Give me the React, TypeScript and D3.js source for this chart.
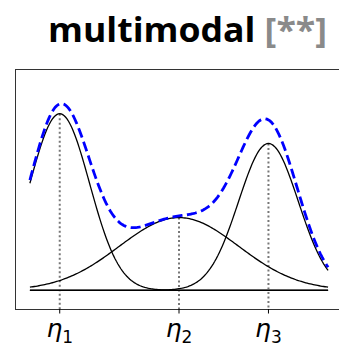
import React from 'react';
import * as d3 from 'd3';

// mixture components (x axis 0..10)
const labels = ['1', '2', '3'];
const means = [1, 5, 8];
const sigmas = [1, 2, 1];
const weights = [0.38, 0.313, 0.316];
const xDomain = [-0.5, 10.5];
const yDomain = [-0.016, 0.19];
const xStart = 0;
const xEnd = 10;

const gauss = (x: number, m: number, s: number, w: number) =>
  (w / (s * Math.sqrt(2 * Math.PI))) * Math.exp(-((x - m) ** 2) / (2 * s * s));

const App = () => {
  const ref = React.useRef<SVGSVGElement>(null);

  React.useEffect(() => {
    const svg = d3.select(ref.current);
    svg.selectAll('*').remove();

    const x = d3.scaleLinear().domain(xDomain).range([15, 343]);
    const y = d3.scaleLinear().domain(yDomain).range([309, 69]);
    const xs = d3.range(xStart, xEnd + 0.001, 0.05);

    // title
    const title = svg.append('text')
      .attr('x', 48)
      .attr('y', 42)
      .attr('textLength', 279)
      .attr('lengthAdjust', 'spacingAndGlyphs')
      .style('font-family', '"Open Sans", Lato, sans-serif')
      .style('font-weight', 'bold')
      .style('font-size', '34px');
    title.append('tspan').attr('fill', '#000').text('multimodal ');
    title.append('tspan').attr('fill', '#8a8a8a').text('[**]');

    // frame (right side falls off the picture)
    svg.append('rect')
      .attr('x', 15.5)
      .attr('y', 69.5)
      .attr('width', 340)
      .attr('height', 240)
      .attr('fill', 'none')
      .attr('stroke', '#333')
      .attr('stroke-width', 1);

    // zero line
    svg.append('line')
      .attr('x1', x(xStart)).attr('x2', x(xEnd))
      .attr('y1', y(0)).attr('y2', y(0))
      .attr('stroke', '#000')
      .attr('stroke-width', 1.5);

    // dotted markers at the means
    means.forEach((m, i) => {
      svg.append('line')
        .attr('x1', x(m)).attr('x2', x(m))
        .attr('y1', y(gauss(m, m, sigmas[i], weights[i])))
        .attr('y2', y.range()[0])
        .attr('stroke', '#777')
        .attr('stroke-width', 2)
        .attr('stroke-dasharray', '2,2.5');
    });

    const line = d3.line<[number, number]>().x(d => x(d[0])).y(d => y(d[1]));

    // components
    means.forEach((m, i) => {
      svg.append('path')
        .datum(xs.map(v => [v, gauss(v, m, sigmas[i], weights[i])] as [number, number]))
        .attr('d', line)
        .attr('fill', 'none')
        .attr('stroke', '#000')
        .attr('stroke-width', 1.3);
    });

    // mixture
    svg.append('path')
      .datum(xs.map(v => [v, d3.sum(means, (m, i) => gauss(v, m, sigmas[i], weights[i]))] as [number, number]))
      .attr('d', line)
      .attr('fill', 'none')
      .attr('stroke', '#0000ff')
      .attr('stroke-width', 2.8)
      .attr('stroke-dasharray', '10,4.5');

    // ticks + labels
    means.forEach((m, i) => {
      svg.append('line')
        .attr('x1', x(m)).attr('x2', x(m))
        .attr('y1', 309).attr('y2', 313.5)
        .attr('stroke', '#000')
        .attr('stroke-width', 1);
      const t = svg.append('text')
        .attr('x', x(m))
        .attr('y', 337)
        .attr('text-anchor', 'middle')
        .style('font-family', '"DejaVu Sans", sans-serif')
        .style('font-size', '25px');
      t.append('tspan').style('font-style', 'italic').text('η');
      t.append('tspan').attr('dy', 6).style('font-size', '17px').text(labels[i]);
    });
  }, []);

  return (
    <svg ref={ref} width={339} height={347}
      style={{ position: 'absolute', left: 0, top: 0, background: '#fff' }} />
  );
};

export default App;
